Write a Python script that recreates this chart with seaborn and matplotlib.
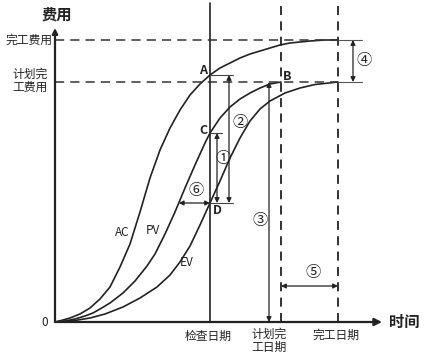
import numpy as np
import pandas as pd
import matplotlib
matplotlib.use("Agg")
import matplotlib.pyplot as plt
import seaborn as sns

# cumulative curves (time, cost)
ac_t = [0, 8, 15, 25, 35, 45, 55, 65, 75, 85, 95, 105, 115, 125, 135, 145, 155, 165, 175, 185,
        195, 205, 215, 225, 235, 245, 255, 270, 283]
ac_c = [0, 2, 4, 8, 14, 23, 35, 55, 78, 110, 144, 172, 194, 212, 227, 238, 247, 254, 259, 264,
        268, 271, 274, 277, 279, 280, 281, 282, 282]
pv_t = [0, 10, 20, 30, 38, 45, 55, 68, 80, 92, 100, 110, 120, 130, 140, 150, 155, 165, 175, 185,
        195, 205, 215, 226]
pv_c = [0, 1, 3, 6, 9, 13, 19, 29, 41, 56, 68, 88, 110, 134, 157, 179, 189, 204, 215, 223,
        229, 234, 238, 240]
ev_t = [0, 10, 20, 35, 50, 68, 85, 102, 115, 125, 135, 145, 155, 165, 175, 185, 195, 205, 215,
        230, 245, 260, 283]
ev_c = [0, 0.5, 1.5, 4, 8, 15, 24, 35, 47, 60, 76, 97, 119, 141, 164, 184, 201, 213, 221,
        229, 234, 237.5, 240]

check_date = 155
planned_finish = 226
finish = 283
eac = 282      # 完工费用
bac = 240      # 计划完工费用
date3 = 214

sns.set_style("white")
plt.rcParams['font.family'] = ['Noto Sans CJK SC', 'DejaVu Sans']

df = pd.concat([
    pd.DataFrame({'t': ac_t, 'c': ac_c, 's': 'AC'}),
    pd.DataFrame({'t': pv_t, 'c': pv_c, 's': 'PV'}),
    pd.DataFrame({'t': ev_t, 'c': ev_c, 's': 'EV'}),
])

fig = plt.figure(figsize=(4.38, 3.59), dpi=100)
ax = fig.add_axes([0, 0, 1, 1])
ax.set_xlim(-55, 383)
ax.set_ylim(-37, 322)
ax.axis('off')

ink = '#222222'
sns.lineplot(data=df, x='t', y='c', units='s', estimator=None, sort=False,
             color=ink, lw=1.2, ax=ax)

a_val = np.interp(check_date, ac_t, ac_c)
c_val = np.interp(check_date, pv_t, pv_c)
d_val = np.interp(check_date, ev_t, ev_c)
t6 = np.interp(d_val, pv_c, pv_t)

# axes with arrows
ax.annotate('', xy=(327, 0), xytext=(0, 0),
            arrowprops=dict(arrowstyle='-|>', lw=1.6, color=ink, mutation_scale=11, shrinkA=0, shrinkB=0))
ax.annotate('', xy=(0, 294), xytext=(0, 0),
            arrowprops=dict(arrowstyle='-|>', lw=1.6, color=ink, mutation_scale=8, shrinkA=0, shrinkB=0))

# reference lines
ax.plot([check_date, check_date], [0, 319], color=ink, lw=1.2)
for xv in [planned_finish, finish]:
    ax.plot([xv, xv], [0, 319], color=ink, lw=1.3, dashes=(5, 3.5))
for yv in [eac, bac]:
    ax.plot([0, finish], [yv, yv], color='#333333', lw=1.1, dashes=(6, 4))
    ax.plot([finish, 307], [yv, yv], color='#555555', lw=0.8)

ap = dict(arrowstyle='<|-|>', lw=0.9, color=ink, mutation_scale=7, shrinkA=0, shrinkB=0)
thin = dict(color='#444444', lw=0.8)

# ①
ax.plot([check_date, 167], [c_val, c_val], **thin)
ax.annotate('', xy=(162, c_val), xytext=(162, d_val), arrowprops=ap)
# ②
ax.plot([check_date, 178], [a_val, a_val], **thin)
ax.plot([check_date, 178], [d_val, d_val], **thin)
ax.annotate('', xy=(174, a_val), xytext=(174, d_val), arrowprops=ap)
# ③
ax.annotate('', xy=(date3, bac), xytext=(date3, 0), arrowprops=ap)
# ④
ax.annotate('', xy=(298, eac), xytext=(298, bac), arrowprops=ap)
# ⑤
ax.annotate('', xy=(planned_finish, 36), xytext=(finish, 36), arrowprops=ap)
# ⑥
ax.annotate('', xy=(t6, d_val), xytext=(check_date, d_val), arrowprops=ap)

circ = dict(fontsize=11, ha='center', va='center', color=ink)
ax.text(168, 163, '①', **circ)
ax.text(185, 200, '②', **circ)
ax.text(205, 102, '③', **circ)
ax.text(309, 262, '④', **circ)
ax.text(258, 49, '⑤', **circ)
ax.text(141, 131, '⑥', **circ)

pt = dict(fontsize=9, ha='center', va='center', color=ink, weight='bold')
ax.text(148, 251, 'A', **pt)
ax.text(232, 246, 'B', **pt)
ax.text(148, 192, 'C', **pt)
ax.text(162, 112, 'D', **pt)

cl = dict(fontsize=8.5, ha='center', va='center', color=ink)
ax.text(67, 89, 'AC', **cl)
ax.text(98, 91, 'PV', **cl)
ax.text(132, 60, 'EV', **cl)

tl = dict(fontsize=8.5, color=ink, va='center')
ax.text(-3, eac, '完工费用', ha='right', **tl)
ax.text(-7, bac + 1, '计划完\n工费用', ha='right', linespacing=1.05, **tl)
ax.text(-7, 0, '0', ha='right', **tl)
ax.text(check_date - 2, -14, '检查日期', ha='center', **tl)
ax.text(date3, -19, '计划完\n工日期', ha='center', linespacing=1.0, **tl)
ax.text(finish - 2, -13, '完工日期', ha='center', **tl)

ax.text(2, 307, '费用', fontsize=11, weight='bold', ha='center', va='center', color=ink)
ax.text(349, 0, '时间', fontsize=11, weight='bold', ha='center', va='center', color=ink)

fig.savefig('out.png', dpi=100, facecolor='white')
